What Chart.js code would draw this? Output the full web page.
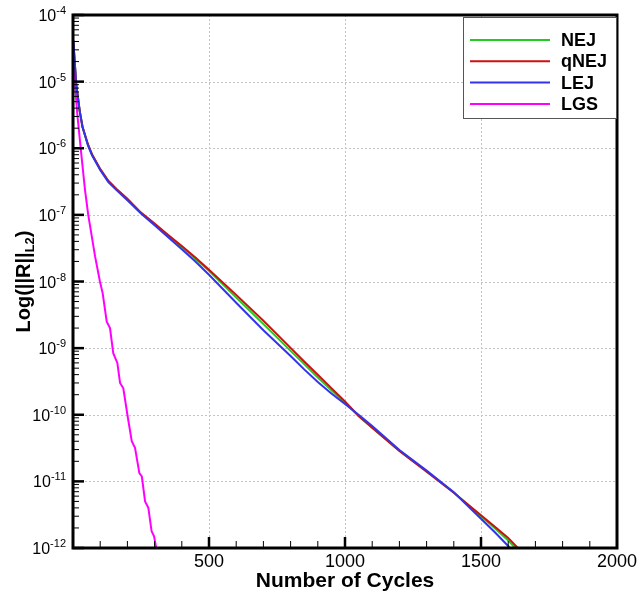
<!DOCTYPE html>
<html>
<head>
<meta charset="utf-8">
<script src="https://cdn.jsdelivr.net/npm/chart.js@4.4.0/dist/chart.umd.min.js"></script>
<style>
  html, body { margin: 0; padding: 0; background: #fff; }
  canvas { display: block; }
</style>
</head>
<body>
<canvas id="residualChart" width="639" height="596"></canvas>
<script>
// residual history, values
const cyclesJ = [1, 12, 25, 35, 55, 70, 100, 130, 160, 200, 250, 300, 350, 400, 450, 500, 600, 700, 800, 850, 900, 950, 1000, 1050, 1100, 1200, 1300, 1400, 1500, 1550, 1600, 1650];
const nejRes = [4.17e-5, 8.9e-6, 3.55e-6, 2.09e-6, 1.12e-6, 8.0e-7, 4.8e-7, 3.18e-7, 2.4e-7, 1.7e-7, 1.07e-7, 7.2e-8, 4.9e-8, 3.3e-8, 2.2e-8, 1.45e-8, 5.75e-9, 2.29e-9, 9.1e-10, 5.75e-10, 3.63e-10, 2.34e-10, 1.51e-10, 9.6e-11, 6.4e-11, 2.88e-11, 1.42e-11, 6.8e-12, 3.0e-12, 2.0e-12, 1.29e-12, 7.9e-13];
const qnejRes = [4.17e-5, 8.9e-6, 3.55e-6, 2.09e-6, 1.15e-6, 8.1e-7, 4.9e-7, 3.25e-7, 2.45e-7, 1.75e-7, 1.08e-7, 7.4e-8, 5.0e-8, 3.4e-8, 2.3e-8, 1.5e-8, 6.3e-9, 2.57e-9, 1.01e-9, 6.3e-10, 3.98e-10, 2.51e-10, 1.58e-10, 9.6e-11, 6.4e-11, 2.85e-11, 1.4e-11, 6.75e-12, 3.1e-12, 2.1e-12, 1.41e-12, 8.7e-13];
const lejRes = [4.17e-5, 8.9e-6, 3.55e-6, 2.09e-6, 1.1e-6, 7.8e-7, 4.7e-7, 3.1e-7, 2.35e-7, 1.65e-7, 1.05e-7, 7.0e-8, 4.6e-8, 3.05e-8, 2.0e-8, 1.26e-8, 4.8e-9, 1.86e-9, 7.6e-10, 4.8e-10, 3.1e-10, 2.09e-10, 1.45e-10, 1.0e-10, 6.8e-11, 2.95e-11, 1.45e-11, 6.85e-12, 2.75e-12, 1.74e-12, 1.07e-12, 6.3e-13];

const cyclesGS = [1, 8, 16, 32, 44, 56, 81, 99, 109, 124, 136, 148, 163, 173, 185, 200, 216, 228, 244, 253, 265, 277, 289, 298, 305, 312];
const lgsRes = [3.5e-5, 8.5e-6, 3.2e-6, 7.1e-7, 2.4e-7, 1.0e-7, 2.4e-8, 1.0e-8, 6.7e-9, 2.5e-9, 2.0e-9, 8.4e-10, 6.0e-10, 3.0e-10, 2.5e-10, 1.0e-10, 4.0e-11, 3.2e-11, 1.33e-11, 1.19e-11, 5.0e-12, 4.0e-12, 1.78e-12, 1.5e-12, 1.06e-12, 7.5e-13];

const seriesNames = ["NEJ", "qNEJ", "LEJ", "LGS"];
const seriesColors = ["#22cc22", "#cc1111", "#3333ee", "#ff00ff"];

// axis ticks
const yExponents = [-12, -11, -10, -9, -8, -7, -6, -5, -4];
const xTickLabels = [500, 1000, 1500, 2000];
const xMinorStep = 100;

const toPoints = (xs, ys) => xs.map((x, i) => ({ x, y: ys[i] }));

const FONT = "'Liberation Sans', Arial, Helvetica, sans-serif";

// frame, inward ticks, tecplot style labels and the boxed legend
const tecplotAxes = {
  id: "tecplotAxes",
  beforeDatasetsDraw(chart) {
    const { ctx, chartArea: a, scales } = chart;
    const xs = scales.x, ys = scales.y;
    ctx.save();
    ctx.strokeStyle = "#c4c4c4";
    ctx.lineWidth = 1;
    ctx.setLineDash([2, 2]);
    xTickLabels.forEach((v) => {
      const px = Math.round(xs.getPixelForValue(v)) + 0.5;
      if (px >= a.right - 2) return;
      ctx.beginPath();
      ctx.moveTo(px, a.top);
      ctx.lineTo(px, a.bottom);
      ctx.stroke();
    });
    yExponents.forEach((e) => {
      const py = Math.round(ys.getPixelForValue(Math.pow(10, e))) + 0.5;
      if (py <= a.top + 2 || py >= a.bottom - 2) return;
      ctx.beginPath();
      ctx.moveTo(a.left, py);
      ctx.lineTo(a.right, py);
      ctx.stroke();
    });
    ctx.restore();
  },
  afterDatasetsDraw(chart) {
    const { ctx, chartArea: a, scales } = chart;
    const xs = scales.x, ys = scales.y;
    ctx.save();
    ctx.strokeStyle = "#000";

    // y ticks (major + log minors), pointing inward
    yExponents.forEach((e) => {
      for (let m = 1; m <= 9; m++) {
        const v = m * Math.pow(10, e);
        if (v > ys.max * 1.0001) continue;
        const py = ys.getPixelForValue(v);
        ctx.lineWidth = m === 1 ? 2.5 : 1;
        ctx.beginPath();
        ctx.moveTo(a.left, py);
        ctx.lineTo(a.left + (m === 1 ? 11 : 6), py);
        ctx.stroke();
      }
    });

    // x ticks
    for (let v = xMinorStep; v < xs.max; v += xMinorStep) {
      const px = xs.getPixelForValue(v);
      const major = v % 500 === 0;
      ctx.lineWidth = major ? 2.5 : 1;
      ctx.beginPath();
      ctx.moveTo(px, a.bottom);
      ctx.lineTo(px, a.bottom - (major ? 11 : 7));
      ctx.stroke();
    }

    // frame
    ctx.lineWidth = 3;
    ctx.strokeRect(a.left, a.top, a.right - a.left, a.bottom - a.top);

    // legend box
    const lx = a.left + 390, ly = a.top + 2, lw = a.right - 1 - lx, lh = 101;
    ctx.fillStyle = "#fff";
    ctx.fillRect(lx, ly, lw, lh);
    ctx.lineWidth = 1;
    ctx.strokeStyle = "#555";
    ctx.strokeRect(lx + 0.5, ly + 0.5, lw, lh);
    ctx.font = "bold 18px " + FONT;
    ctx.textBaseline = "middle";
    ctx.textAlign = "left";
    chart.data.datasets.forEach((ds, i) => {
      const rowY = ly + 23 + i * 21.3;
      ctx.strokeStyle = ds.borderColor;
      ctx.lineWidth = 2;
      ctx.beginPath();
      ctx.moveTo(lx + 7, rowY);
      ctx.lineTo(lx + 87, rowY);
      ctx.stroke();
      ctx.fillStyle = "#000";
      ctx.fillText(ds.label, lx + 98, rowY + 1);
    });
    ctx.restore();
  },
  afterDraw(chart) {
    const { ctx, chartArea: a, scales } = chart;
    const xs = scales.x, ys = scales.y;
    ctx.save();
    ctx.fillStyle = "#000";
    ctx.textBaseline = "alphabetic";

    // y labels: 10 with superscript exponent
    yExponents.forEach((e) => {
      const py = ys.getPixelForValue(Math.pow(10, e));
      const right = a.left - 7;
      ctx.font = "11px " + FONT;
      ctx.textAlign = "right";
      const expText = String(e);
      ctx.fillText(expText, right, py - 1);
      const ew = ctx.measureText(expText).width;
      ctx.font = "16px " + FONT;
      ctx.fillText("10", right - ew, py + 6);
    });

    // x labels
    ctx.font = "18px " + FONT;
    ctx.textAlign = "center";
    xTickLabels.forEach((v) => {
      ctx.fillText(String(v), xs.getPixelForValue(v), a.bottom + 19);
    });

    // x title
    ctx.font = "bold 21px " + FONT;
    ctx.fillText("Number of Cycles", (a.left + a.right) / 2, a.bottom + 39);

    // y title with subscript
    ctx.translate(30, (a.top + a.bottom) / 2);
    ctx.rotate(-Math.PI / 2);
    const main = "Log(||R||", sub = "L2", close = ")";
    ctx.font = "bold 20px " + FONT;
    const wMain = ctx.measureText(main).width;
    const wClose = ctx.measureText(close).width;
    ctx.font = "bold 13px " + FONT;
    const wSub = ctx.measureText(sub).width;
    let x0 = -(wMain + wSub + wClose) / 2;
    ctx.textAlign = "left";
    ctx.font = "bold 20px " + FONT;
    ctx.fillText(main, x0, 0);
    ctx.font = "bold 13px " + FONT;
    ctx.fillText(sub, x0 + wMain, 4);
    ctx.font = "bold 20px " + FONT;
    ctx.fillText(close, x0 + wMain + wSub, 0);
    ctx.restore();
  },
};

const ctx = document.getElementById("residualChart").getContext("2d");
new Chart(ctx, {
  type: "line",
  data: {
    datasets: [
      { label: seriesNames[0], data: toPoints(cyclesJ, nejRes), borderColor: seriesColors[0], order: 2 },
      { label: seriesNames[1], data: toPoints(cyclesJ, qnejRes), borderColor: seriesColors[1], order: 1 },
      { label: seriesNames[2], data: toPoints(cyclesJ, lejRes), borderColor: seriesColors[2], order: 0 },
      { label: seriesNames[3], data: toPoints(cyclesGS, lgsRes), borderColor: seriesColors[3], order: 0 },
    ],
  },
  options: {
    responsive: false,
    animation: false,
    devicePixelRatio: 1,
    layout: { padding: { top: 15, right: 22, left: 0, bottom: 0 } },
    elements: {
      line: { borderWidth: 2, tension: 0, fill: false },
      point: { radius: 0 },
    },
    plugins: {
      legend: { display: false },
      tooltip: { enabled: false },
    },
    scales: {
      x: {
        type: "linear",
        min: 0,
        max: 2000,
        grid: { display: false },
        border: { display: false },
        ticks: { display: false, stepSize: 100 },
        afterFit: (s) => { s.height = 48; },
      },
      y: {
        type: "logarithmic",
        min: 1e-12,
        max: 1e-4,
        grid: { display: false },
        border: { display: false },
        ticks: { display: false },
        afterFit: (s) => { s.width = 73; },
      },
    },
  },
  plugins: [tecplotAxes],
});
</script>
</body>
</html>
